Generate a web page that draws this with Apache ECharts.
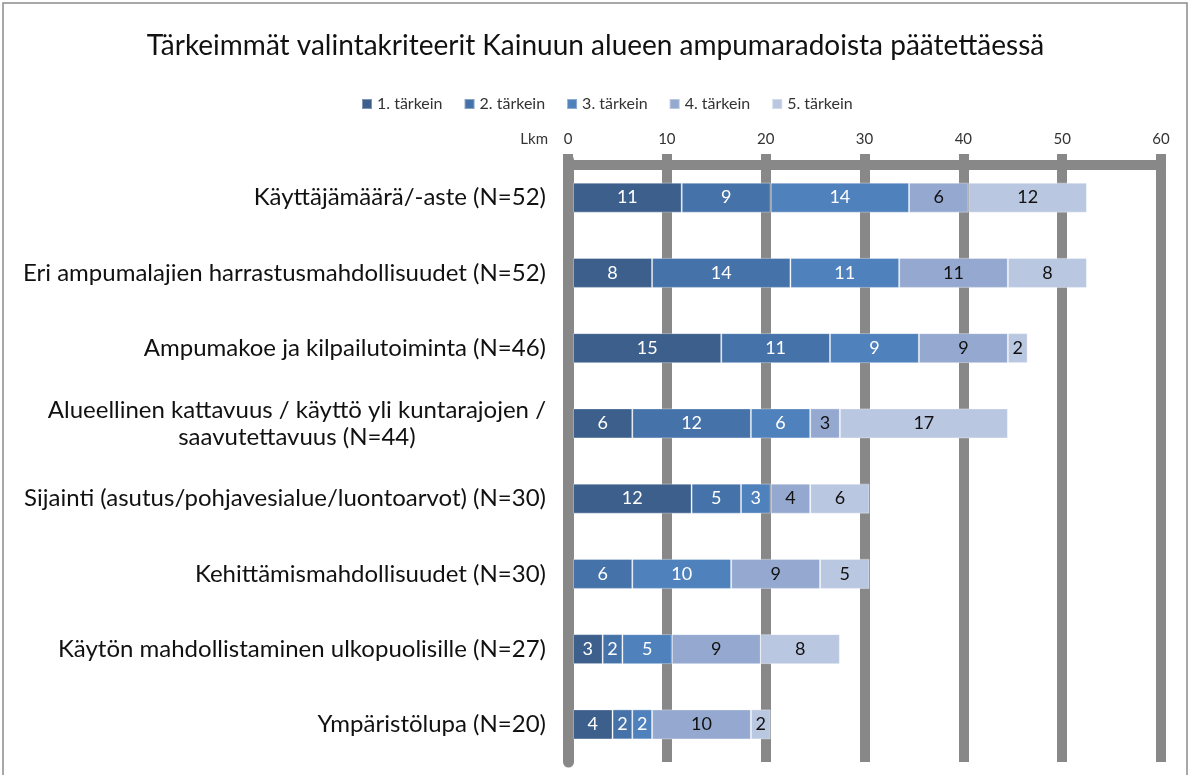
<!DOCTYPE html>
<html><head><meta charset="utf-8">
<script src="https://cdn.jsdelivr.net/npm/echarts@6/dist/echarts.min.js"></script>
<style>html,body{margin:0;padding:0;background:#fff}#c{width:1191px;height:775px}</style>
</head><body><div id="c"></div>
<script>
const categories = [
  'Käyttäjämäärä/-aste (N=52)',
  'Eri ampumalajien harrastusmahdollisuudet (N=52)',
  'Ampumakoe ja kilpailutoiminta (N=46)',
  'Alueellinen kattavuus / käyttö yli kuntarajojen /\nsaavutettavuus (N=44)',
  'Sijainti (asutus/pohjavesialue/luontoarvot) (N=30)',
  'Kehittämismahdollisuudet (N=30)',
  'Käytön mahdollistaminen ulkopuolisille (N=27)',
  'Ympäristölupa (N=20)'
];
const seriesNames = ['1. tärkein', '2. tärkein', '3. tärkein', '4. tärkein', '5. tärkein'];
const s1 = [11, 8, 15, 6, 12, 0, 3, 4];
const s2 = [9, 14, 11, 12, 5, 6, 2, 2];
const s3 = [14, 11, 9, 6, 3, 10, 5, 2];
const s4 = [6, 11, 9, 3, 4, 9, 9, 10];
const s5 = [12, 8, 2, 17, 6, 5, 8, 2];
const xTicks = [0, 10, 20, 30, 40, 50, 60];
const axisName = 'Lkm';
const colors = ['#3C5F8C', '#4472A9', '#4F81BD', '#95A9D0', '#BAC7E1'];
const labelColors = ['#fff', '#fff', '#fff', '#111', '#111'];

const FONT = 'Lato, "Open Sans", sans-serif';
const allData = [s1, s2, s3, s4, s5];
const chart = echarts.init(document.getElementById('c'), null, {renderer: 'canvas'});
chart.setOption({
  animation: false,
  title: {
    text: 'Tärkeimmät valintakriteerit Kainuun alueen ampumaradoista päätettäessä',
    left: 'center', top: 27,
    textStyle: {fontFamily: FONT, fontSize: 28, fontWeight: 'normal', color: '#111'}
  },
  legend: {
    data: seriesNames, left: 356, top: 91, itemWidth: 10, itemHeight: 10, itemGap: 21,
    icon: 'rect',
    textStyle: {fontFamily: FONT, fontSize: 16, color: '#333'}
  },
  graphic: [{
    type: 'rect', shape: {x: 3, y: 3, width: 1184, height: 800},
    style: {fill: 'none', stroke: '#8c8c8c', lineWidth: 1.5}, silent: true, z: -1
  }],
  grid: [
    {left: 573, right: 25, top: 160, bottom: 13},
    {left: 568, right: 30, top: 160, bottom: 13}
  ],
  xAxis: [{
    gridIndex: 0, type: 'value', position: 'top', min: 0, max: 60, interval: 10,
    axisLine: {show: false}, axisTick: {show: false}, axisLabel: {show: false}, splitLine: {show: false}
  }, {
    gridIndex: 1, type: 'value', position: 'top', min: 0, max: 60, interval: 10, offset: -5,
    name: axisName, nameLocation: 'start', nameGap: 20,
    nameTextStyle: {fontFamily: FONT, fontSize: 15, color: '#333', verticalAlign: 'bottom', padding: [0, 0, 18, 0]},
    axisLine: {show: true, lineStyle: {color: '#888', width: 10}},
    axisTick: {show: true, length: 11, lineStyle: {color: '#888', width: 10}},
    axisLabel: {fontFamily: FONT, fontSize: 15, color: '#333', margin: 18,
      formatter: v => xTicks.includes(v) ? String(v) : ''},
    splitLine: {show: true, lineStyle: {color: '#888', width: 10}}
  }],
  yAxis: [{
    gridIndex: 0, type: 'category', data: categories, inverse: true,
    axisLine: {show: false},
    axisTick: {show: false},
    axisLabel: {
      margin: 27, fontFamily: FONT, fontSize: 24, color: '#111', lineHeight: 27,
      formatter: v => v.split('\n').map(l => '{c|' + l + '}').join('\n'),
      rich: {c: {align: 'center', fontFamily: FONT, fontSize: 24, color: '#111', lineHeight: 27}}
    }
  }, {
    gridIndex: 1, type: 'category', data: categories, inverse: true,
    axisLine: {show: true, lineStyle: {color: '#888', width: 11}},
    axisTick: {show: false}, axisLabel: {show: false}
  }],
  series: seriesNames.map((n, i) => ({
    name: n, type: 'bar', stack: 'total', barWidth: 30,
    data: allData[i].map(v => v === 0 ? null : v),
    xAxisIndex: 0, yAxisIndex: 0,
    itemStyle: {color: colors[i], borderColor: 'rgba(255,255,255,0.35)', borderWidth: 1},
    label: {show: true, position: 'inside', fontFamily: FONT, fontSize: 18, color: labelColors[i],
      formatter: p => p.value ? String(p.value) : ''}
  }))
});
</script></body></html>
